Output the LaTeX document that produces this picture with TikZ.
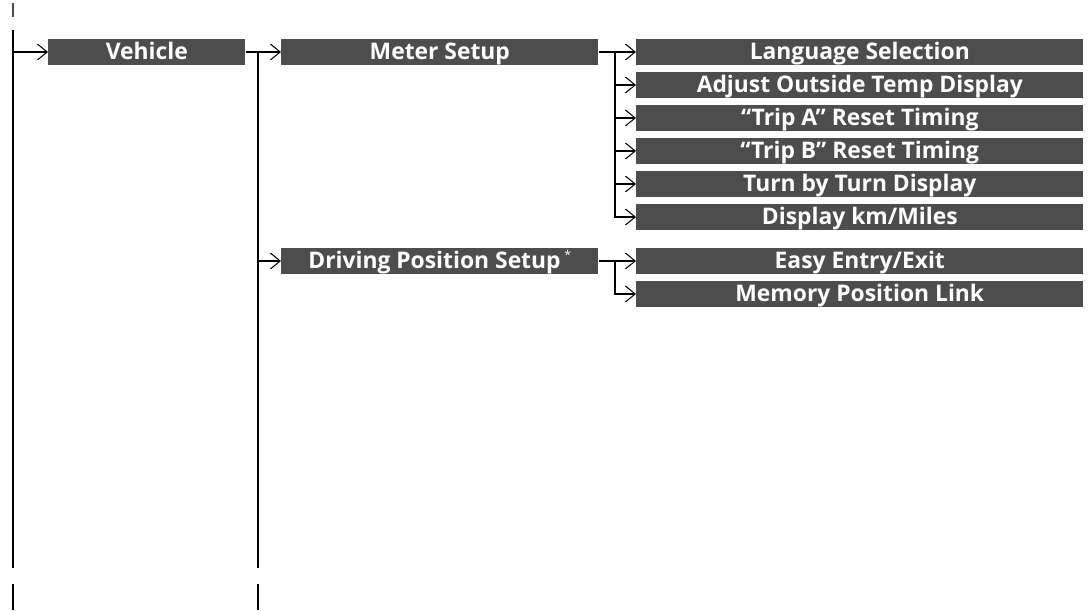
\documentclass[tikz,border=0pt]{standalone}
\usepackage{fontspec}
\setmainfont{Open Sans}
\usepackage{tikz}
\usetikzlibrary{arrows.meta,calc,positioning}
\definecolor{menugray}{RGB}{77,77,77}

\begin{document}
\begin{tikzpicture}[x=0.02cm,y=-0.02cm,
    menu/.style={fill=menugray,text=white,anchor=west,inner sep=0pt,
      minimum height=0.52cm,text height=9pt,text depth=1pt,
      font=\fontsize{13}{15}\selectfont\bfseries},
    lvlone/.style={menu,minimum width=3.94cm},
    lvltwo/.style={menu,minimum width=6.34cm},
    lvlthree/.style={menu,minimum width=8.94cm},
    tree/.style={line width=1.1pt},
    arr/.style={tree,-{Straight Barb[length=5.5pt,width=9pt,line width=0.6pt]}}]
      \useasboundingbox (0,0) rectangle (1090,611);
      % menu boxes
      \node[lvlone] (vehicle) at (48,52) {Vehicle};
      \node[lvltwo] (meter) at (281,52) {Meter Setup};
      \node[lvltwo] (drive) at (281,261) {Driving Position Setup\,\raisebox{5pt}{\fontsize{7}{8}\selectfont\mdseries *}};
      \node[lvlthree] (lang) at (636,52) {Language Selection};
      \node[lvlthree] (temp) at (636,85) {Adjust Outside Temp Display};
      \node[lvlthree] (tripa) at (636,118) {“Trip A” Reset Timing};
      \node[lvlthree] (tripb) at (636,151) {“Trip B” Reset Timing};
      \node[lvlthree] (turn) at (636,184) {Turn by Turn Display};
      \node[lvlthree] (units) at (636,217) {Display km/Miles};
      \node[lvlthree] (entry) at (636,261) {Easy Entry/Exit};
      \node[lvlthree] (memory) at (636,294) {Memory Position Link};
      % branch points
      \coordinate (rootTop) at (13,30);
      \coordinate (rootEnd) at (13,568);
      \coordinate (vehBr) at (258,52);
      \coordinate (vehEnd) at (258,568);
      \coordinate (meterBr) at (615,52);
      \coordinate (driveBr) at (615,261);
      % first level
      \draw[arr] (rootTop) |- (vehicle.west);
      \draw[tree] (rootTop) -- (rootEnd);
      % second level
      \draw[arr] (vehicle.east) -- (meter.west);
      \draw[tree] (vehBr) -- (vehEnd);
      \draw[arr] (vehBr) |- (drive.west);
      % third level
      \draw[arr] (meter.east) -- (lang.west);
      \draw[arr] (meterBr) |- (temp.west);
      \draw[arr] (meterBr) |- (tripa.west);
      \draw[arr] (meterBr) |- (tripb.west);
      \draw[arr] (meterBr) |- (turn.west);
      \draw[arr] (meterBr) |- (units.west);
      \draw[arr] (drive.east) -- (entry.west);
      \draw[arr] (driveBr) |- (memory.west);
      % cut marks
      \draw[tree,black!70] (13,3) -- (13,17);
      \draw[tree] (13,584) -- (13,610);
      \draw[tree] (258,584) -- (258,610);
    \end{tikzpicture}
\end{document}
